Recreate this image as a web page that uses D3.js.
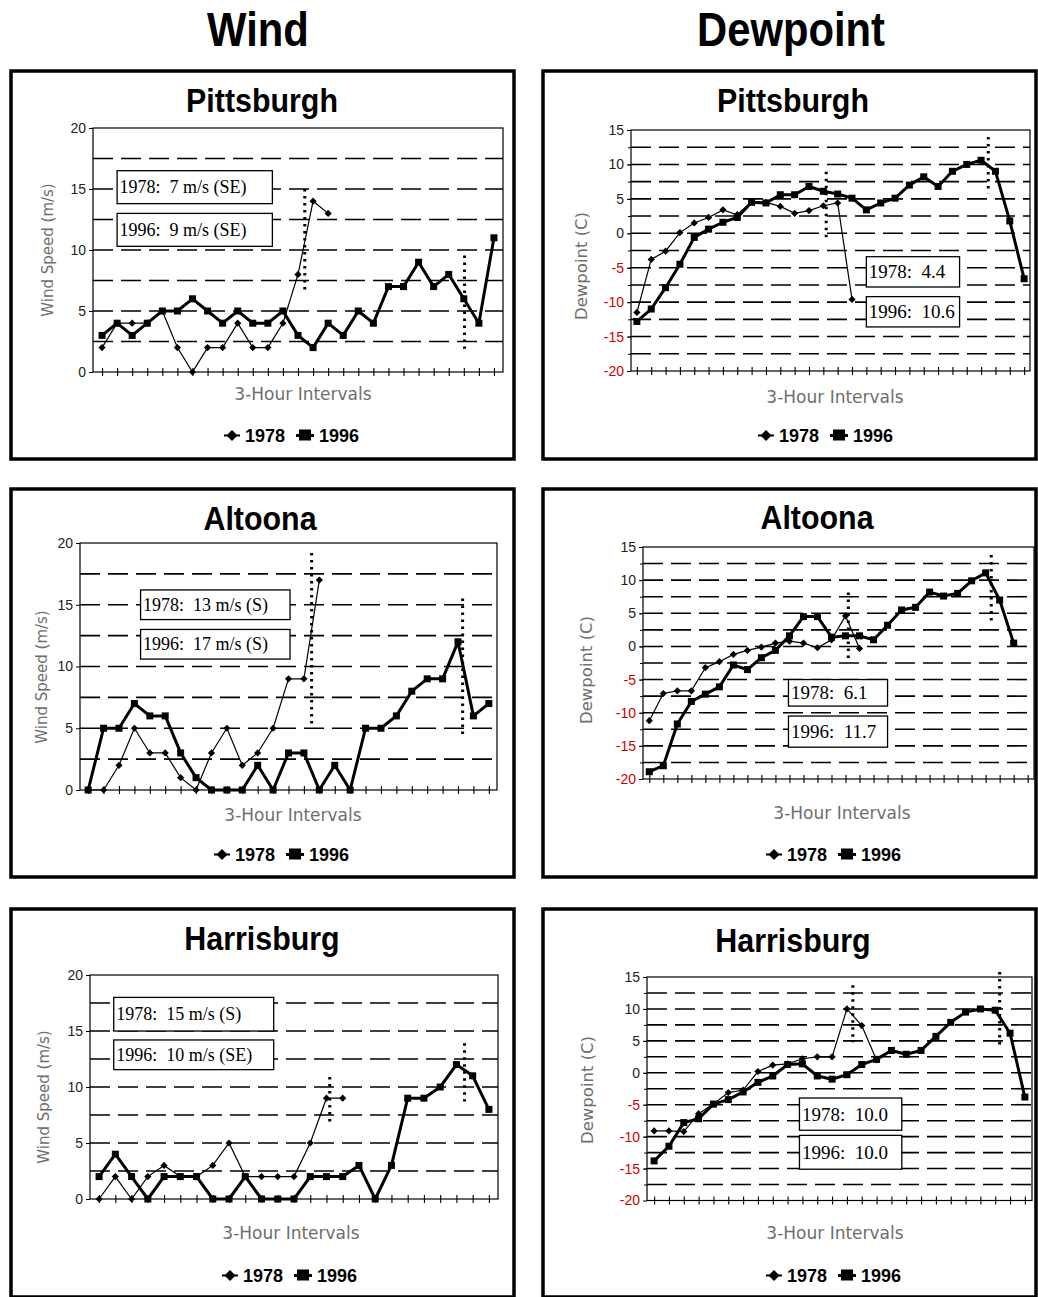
<!DOCTYPE html>
<html><head><meta charset="utf-8">
<script src="https://cdn.jsdelivr.net/npm/d3@7"></script>
<style>body{margin:0;background:#fff}svg{display:block}</style>
</head><body>
<svg id="c" width="1038" height="1297"></svg>
<script>
// ---------- DATA ----------
const columnTitles = ["Wind", "Dewpoint"];
const cities = ["Pittsburgh", "Altoona", "Harrisburg"];
const seriesNames = ["1978", "1996"];
const windTicks = [0, 5, 10, 15, 20];
const dewTicks = [-20, -15, -10, -5, 0, 5, 10, 15];
const windGridValues = [2.5, 5, 7.5, 10, 12.5, 15, 17.5];
const dewGridValues = [-17.5, -15, -12.5, -10, -7.5, -5, -2.5, 0, 2.5, 5, 7.5, 10, 12.5];
const windAxisTitle = "Wind Speed (m/s)";
const dewAxisTitle = "Dewpoint (C)";
const xAxisTitle = "3-Hour Intervals";

const intervals25 = [1,2,3,4,5,6,7,8,9,10,11,12,13,14,15,16,17,18,19,20,21,22,23,24,25];
const intervals26 = [1,2,3,4,5,6,7,8,9,10,11,12,13,14,15,16,17,18,19,20,21,22,23,24,25,26];
const intervals27 = [1,2,3,4,5,6,7,8,9,10,11,12,13,14,15,16,17,18,19,20,21,22,23,24,25,26,27];
const intervals28 = [1,2,3,4,5,6,7,8,9,10,11,12,13,14,15,16,17,18,19,20,21,22,23,24,25,26,27,28];

// Wind speed (m/s)
const windPitt1978 = [2,4,4,4,5,2,0,2,2,4,2,2,4,8,14,13];
const windPitt1996 = [3,4,3,4,5,5,6,5,4,5,4,4,5,3,2,4,3,5,4,7,7,9,7,8,6,4,11];
const windAlt1978  = [0,0,2,5,3,3,1,0,3,5,2,3,5,9,9,17];
const windAlt1996  = [0,5,5,7,6,6,3,1,0,0,0,2,0,3,3,0,2,0,5,5,6,8,9,9,12,6,7];
const windHar1978  = [0,2,0,2,3,2,2,3,5,2,2,2,2,5,9,9];
const windHar1996  = [2,4,2,0,2,2,2,0,0,2,0,0,0,2,2,2,3,0,3,9,9,10,12,11,8];

// Dewpoint (C)
const dewPitt1978 = [-11.5,-3.8,-2.6,0.1,1.5,2.3,3.4,2.7,4.6,4.5,3.9,2.9,3.3,4.0,4.4,-9.6];
const dewPitt1996 = [-12.8,-11.0,-7.9,-4.5,-0.6,0.6,1.6,2.3,4.5,4.4,5.6,5.6,6.8,6.1,5.7,5.1,3.4,4.4,5.1,7.0,8.2,6.8,9.0,10.0,10.6,9.0,1.8,-6.6];
const dewAlt1978  = [-11.2,-7.1,-6.7,-6.7,-3.2,-2.3,-1.2,-0.6,-0.1,0.5,0.8,0.5,-0.2,1.0,4.6,-0.3];
const dewAlt1996  = [-18.9,-18.0,-11.7,-8.3,-7.2,-6.1,-2.8,-3.5,-1.7,-0.6,1.6,4.5,4.5,1.4,1.6,1.6,1.0,3.2,5.5,5.9,8.2,7.6,8.0,9.9,11.1,7.0,0.5];
const dewHar1978  = [-9.1,-9.1,-9.2,-6.4,-4.9,-3.1,-2.7,0.2,1.2,1.4,2.2,2.5,2.5,10.0,7.4,2.0];
const dewHar1996  = [-13.8,-11.5,-7.8,-7.2,-4.9,-4.2,-3.0,-1.5,-0.5,1.3,1.4,-0.5,-1.0,-0.3,1.3,2.1,3.5,2.9,3.5,5.7,7.9,9.5,10.0,9.8,6.2,-3.8];

// Peak notes (text)
const windPittNotes = ["1978:  7 m/s (SE)", "1996:  9 m/s (SE)"];
const windAltNotes  = ["1978:  13 m/s (S)", "1996:  17 m/s (S)"];
const windHarNotes  = ["1978:  15 m/s (S)", "1996:  10 m/s (SE)"];
const dewPittNotes  = ["1978:  4.4", "1996:  10.6"];
const dewAltNotes   = ["1978:  6.1", "1996:  11.7"];
const dewHarNotes   = ["1978:  10.0", "1996:  10.0"];

// Dotted peak-time markers: interval position and value range
const windPittPeaks = [{at:13.45, from:6.5, to:15}, {at:24.05, from:1.9, to:9.55}];
const windAltPeaks  = [{at:14.5, from:5.3, to:19.2}, {at:24.3, from:4.2, to:15.5}];
const windHarPeaks  = [{at:14.2, from:6.8, to:10.9}, {at:22.5, from:8.7, to:13.9}];
const dewPittPeaks  = [{at:13.2, from:-1.0, to:8.95}, {at:24.5, from:5.8, to:14.0}];
const dewAltPeaks   = [{at:14.2, from:-2.2, to:8.15}, {at:24.4, from:3.65, to:13.8}];
const dewHarPeaks   = [{at:13.4, from:4.8, to:13.7}, {at:23.3, from:3.8, to:15.8}];

// ---------- LAYOUT ----------
const SANS = "'Liberation Sans', Arial, sans-serif";
const WIDE = "'DejaVu Sans', Verdana, sans-serif";
const SERIF = "'Liberation Serif', 'Times New Roman', serif";

const panels = [
  {kind:"wind", city:cities[0], cats:intervals27, s78:windPitt1978, s96:windPitt1996, notes:windPittNotes, peaks:windPittPeaks,
   frame:[11,71,503,388], plot:[93,128,503,372], pad:0.6, title:[262,112], ytitle:[48,250], xtitle:[303,400], legend:[293,441.5],
   box:{x0:1.0, x1:11.3, rows:[[16.5,13.8],[13.0,10.3]], fs:18}},
  {kind:"dew", city:cities[0], cats:intervals28, s78:dewPitt1978, s96:dewPitt1996, notes:dewPittNotes, peaks:dewPittPeaks,
   frame:[543,71,493,388], plot:[631,130,1030,371], pad:0.41, title:[793,112], ytitle:[582,266], xtitle:[835,403], legend:[827,441.5],
   box:{x0:16.0, x1:22.5, rows:[[-3.4,-7.8],[-9.2,-13.6]], fs:19}},
  {kind:"wind", city:cities[1], cats:intervals27, s78:windAlt1978, s96:windAlt1996, notes:windAltNotes, peaks:windAltPeaks,
   frame:[11,489,503,388], plot:[80,543,497,790], pad:0.53, title:[260,530], ytitle:[42,677], xtitle:[293,821], legend:[283,860.5],
   box:{x0:3.4, x1:13.1, rows:[[16.2,13.8],[13.0,10.6]], fs:18}},
  {kind:"dew", city:cities[1], cats:intervals28, s78:dewAlt1978, s96:dewAlt1996, notes:dewAltNotes, peaks:dewAltPeaks,
   frame:[543,489,493,388], plot:[643,547,1034,779], pad:0.45, title:[817,529], ytitle:[587,670], xtitle:[842,819], legend:[835,860.5],
   box:{x0:9.93, x1:17.0, rows:[[-5.0,-9.0],[-10.5,-15.2]], fs:19}},
  {kind:"wind", city:cities[2], cats:intervals25, s78:windHar1978, s96:windHar1996, notes:windHarNotes, peaks:windHarPeaks,
   frame:[11,909,503,388], plot:[90,975,498,1199], pad:0.56, title:[262,950], ytitle:[44,1097], xtitle:[291,1239], legend:[291,1281.5],
   box:{x0:0.9, x1:10.75, rows:[[18.0,15.0],[14.2,11.55]], fs:18}},
  {kind:"dew", city:cities[2], cats:intervals26, s78:dewHar1978, s96:dewHar1996, notes:dewHarNotes, peaks:dewHarPeaks,
   frame:[543,909,493,388], plot:[647,977,1032,1200.5], pad:0.48, title:[793,952], ytitle:[588,1090], xtitle:[835,1239], legend:[835,1281.5],
   box:{x0:9.8, x1:16.7, rows:[[-3.95,-9.0],[-9.8,-15.1]], fs:19}}
];

const svg = d3.select("#c");

// Column titles (slightly condensed, tall)
svg.append("text").attr("transform", "translate(258,46) scale(0.95,1.08)").attr("text-anchor","middle")
  .attr("font-family", SANS).attr("font-weight","bold").attr("font-size", 44).text(columnTitles[0]);
svg.append("text").attr("transform", "translate(791,46) scale(0.95,1.08)").attr("text-anchor","middle")
  .attr("font-family", SANS).attr("font-weight","bold").attr("font-size", 44).text(columnTitles[1]);

const diamond = r => `M0,${-r}L${r},0L0,${r}L${-r},0Z`;

function drawPanel(p) {
  const g = svg.append("g");
  const isDew = p.kind === "dew";
  const [L, T, R, B] = p.plot;

  g.append("rect").attr("x", p.frame[0]).attr("y", p.frame[1])
    .attr("width", p.frame[2]).attr("height", p.frame[3])
    .attr("fill","none").attr("stroke","#000").attr("stroke-width", 3.5);

  g.append("text").attr("transform", `translate(${p.title[0]},${p.title[1]}) scale(0.95,1.06)`).attr("text-anchor","middle")
    .attr("font-family", SANS).attr("font-weight","bold").attr("font-size", 32).text(p.city);

  const x = d3.scalePoint().domain(p.cats).range([L, R]).padding(p.pad);
  const xi = i => x(p.cats[0]) + i * x.step();
  const y = d3.scaleLinear().domain(isDew ? [-20, 15] : [0, 20]).range([B, T]);

  // dashed gridlines
  g.append("g").selectAll("line").data(isDew ? dewGridValues : windGridValues).join("line")
    .attr("x1", L).attr("x2", R).attr("y1", d => y(d)).attr("y2", d => y(d))
    .attr("stroke", "#000").attr("stroke-width", 1.6).attr("stroke-dasharray", "20,8");

  // plot border
  g.append("rect").attr("x", L).attr("y", T).attr("width", R - L).attr("height", B - T)
    .attr("fill","none").attr("stroke","#000").attr("stroke-width", 1.2);

  // y axis
  const ya = d3.axisLeft(y).tickValues(isDew ? dewTicks : windTicks).tickSize(4).tickPadding(3)
    .tickFormat(d => String(d));
  const yg = g.append("g").attr("transform", `translate(${L},0)`).call(ya);
  yg.select(".domain").remove();
  yg.selectAll("line").attr("stroke","#000");
  yg.selectAll("text").attr("font-family", SANS).attr("font-size", 14)
    .attr("fill", d => d < 0 ? "#cc0000" : "#222");
  if (isDew) {
    const ym = d3.axisLeft(y).tickValues(dewGridValues).tickSize(3).tickFormat("");
    const ymg = g.append("g").attr("transform", `translate(${L},0)`).call(ym);
    ymg.select(".domain").remove();
    ymg.selectAll("line").attr("stroke","#000");
  }

  // x axis crossing ticks
  const xa = d3.axisBottom(x).tickSize(4).tickFormat("");
  const xg = g.append("g").attr("transform", `translate(0,${B})`).call(xa);
  xg.select(".domain").remove();
  xg.selectAll(".tick line").attr("y1", -4).attr("y2", 4).attr("stroke","#000").attr("stroke-width", 1.1);

  // axis titles
  g.append("text").attr("transform", `translate(${p.ytitle[0] + 5},${p.ytitle[1]}) rotate(-90)`)
    .attr("text-anchor","middle").attr("font-family", WIDE).attr("font-size", isDew ? 16.5 : 15)
    .attr("fill","#6e6e6e").text(isDew ? dewAxisTitle : windAxisTitle);
  g.append("text").attr("x", p.xtitle[0]).attr("y", p.xtitle[1]).attr("text-anchor","middle")
    .attr("font-family", WIDE).attr("font-size", 17).attr("fill","#6e6e6e").text(xAxisTitle);

  // note boxes
  p.notes.forEach((t, k) => {
    const [top, bot] = p.box.rows[k];
    const bx = xi(p.box.x0), bw = xi(p.box.x1) - xi(p.box.x0);
    const by = y(top), bh = y(bot) - y(top);
    g.append("rect").attr("x", bx).attr("y", by).attr("width", bw).attr("height", bh)
      .attr("fill","#fff").attr("stroke","#000").attr("stroke-width", 1.3);
    g.append("text").attr("x", bx + 2.5).attr("y", by + bh / 2 + p.box.fs * 0.34)
      .attr("font-family", SERIF).attr("font-size", p.box.fs).attr("fill","#000")
      .attr("xml:space", "preserve").style("white-space", "pre").text(t);
  });

  // dotted peak lines
  g.append("g").selectAll("line").data(p.peaks).join("line")
    .attr("x1", d => xi(d.at)).attr("x2", d => xi(d.at))
    .attr("y1", d => y(d.to)).attr("y2", d => y(d.from))
    .attr("stroke","#000").attr("stroke-width", 3).attr("stroke-dasharray","2.5,4.5");

  // series
  const line = d3.line().x((d, i) => x(p.cats[i])).y(d => y(d));
  g.append("path").datum(p.s78).attr("d", line).attr("fill","none")
    .attr("stroke","#000").attr("stroke-width", 1.2);
  g.append("g").selectAll("path").data(p.s78).join("path")
    .attr("transform", (d, i) => `translate(${x(p.cats[i])},${y(d)})`)
    .attr("d", diamond(3.6)).attr("fill","#000");
  g.append("path").datum(p.s96).attr("d", line).attr("fill","none")
    .attr("stroke","#000").attr("stroke-width", 3).attr("stroke-linejoin","round");
  g.append("g").selectAll("rect").data(p.s96).join("rect")
    .attr("x", (d, i) => x(p.cats[i]) - 3.5).attr("y", d => y(d) - 3.5)
    .attr("width", 7).attr("height", 7).attr("fill","#000");

  // legend
  const lg = g.append("g").attr("transform", `translate(${p.legend[0] - 68},${p.legend[1]})`);
  lg.append("line").attr("x1", -1).attr("x2", 15).attr("y1", -6).attr("y2", -6).attr("stroke","#000").attr("stroke-width", 2);
  lg.append("path").attr("transform","translate(7,-6)").attr("d", diamond(5.5)).attr("fill","#000");
  lg.append("text").attr("x", 20).attr("y", 0).attr("font-family", SANS).attr("font-weight","bold")
    .attr("font-size", 18).text(seriesNames[0]);
  lg.append("line").attr("x1", 71).attr("x2", 89).attr("y1", -6).attr("y2", -6).attr("stroke","#000").attr("stroke-width", 3);
  lg.append("rect").attr("x", 74).attr("y", -12).attr("width", 12).attr("height", 11).attr("fill","#000");
  lg.append("text").attr("x", 94).attr("y", 0).attr("font-family", SANS).attr("font-weight","bold")
    .attr("font-size", 18).text(seriesNames[1]);
}

panels.forEach(drawPanel);
</script>
</body></html>
